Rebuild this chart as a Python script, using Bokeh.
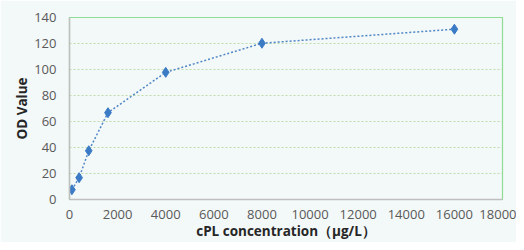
from bokeh.plotting import figure
from bokeh.embed import file_html
from bokeh.resources import INLINE
from bokeh.models import FixedTicker

# Data
concentration = [100, 400, 800, 1600, 4000, 8000, 16000]
od_value = [7.5, 16.8, 37.5, 66.8, 97.8, 120.2, 131.0]
x_ticks = [0, 2000, 4000, 6000, 8000, 10000, 12000, 14000, 16000, 18000]
y_ticks = [0, 20, 40, 60, 80, 100, 120, 140]

BG = "#f3f8f8"
FONT = "Open Sans"

p = figure(width=516, height=242, x_range=(0, 18000), y_range=(0, 140),
           output_backend="svg", toolbar_location=None,
           min_border_left=69, min_border_right=14, min_border_top=17, min_border_bottom=41)

p.background_fill_color = BG
p.border_fill_color = BG
p.outline_line_color = "#8fdc95"
p.outline_line_width = 1.2

p.xaxis.ticker = FixedTicker(ticks=x_ticks)
p.yaxis.ticker = FixedTicker(ticks=y_ticks)

for ax in (p.xaxis, p.yaxis):
    ax.axis_line_color = "#bfbfbf"
    ax.axis_line_width = 1.5
    ax.major_tick_line_color = None
    ax.minor_tick_line_color = None
    ax.major_label_text_color = "#595959"
    ax.major_label_text_font = FONT
    ax.major_label_text_font_size = "13px"
    ax.axis_label_text_font = FONT
    ax.axis_label_text_font_style = "bold"
    ax.axis_label_text_font_size = "13.5px"
    ax.axis_label_text_color = "#262626"

p.xaxis.axis_label = "cPL concentration（μg/L）"
p.yaxis.axis_label = "OD Value"
p.xaxis.major_label_standoff = 4
p.xaxis.axis_label_standoff = 0
p.yaxis.major_label_standoff = 7
p.yaxis.axis_label_standoff = 0

p.xgrid.grid_line_color = None
p.ygrid.grid_line_color = "#bcdcaa"
p.ygrid.grid_line_dash = "2 2"
p.ygrid.grid_line_width = 1

p.line(concentration, od_value, line_color="#4f86c6", line_width=1.5, line_dash="2 2")
p.scatter(concentration, od_value, marker="diamond", size=10, color="#3b7bc6")

open("out.html", "w").write(file_html(p, INLINE))
